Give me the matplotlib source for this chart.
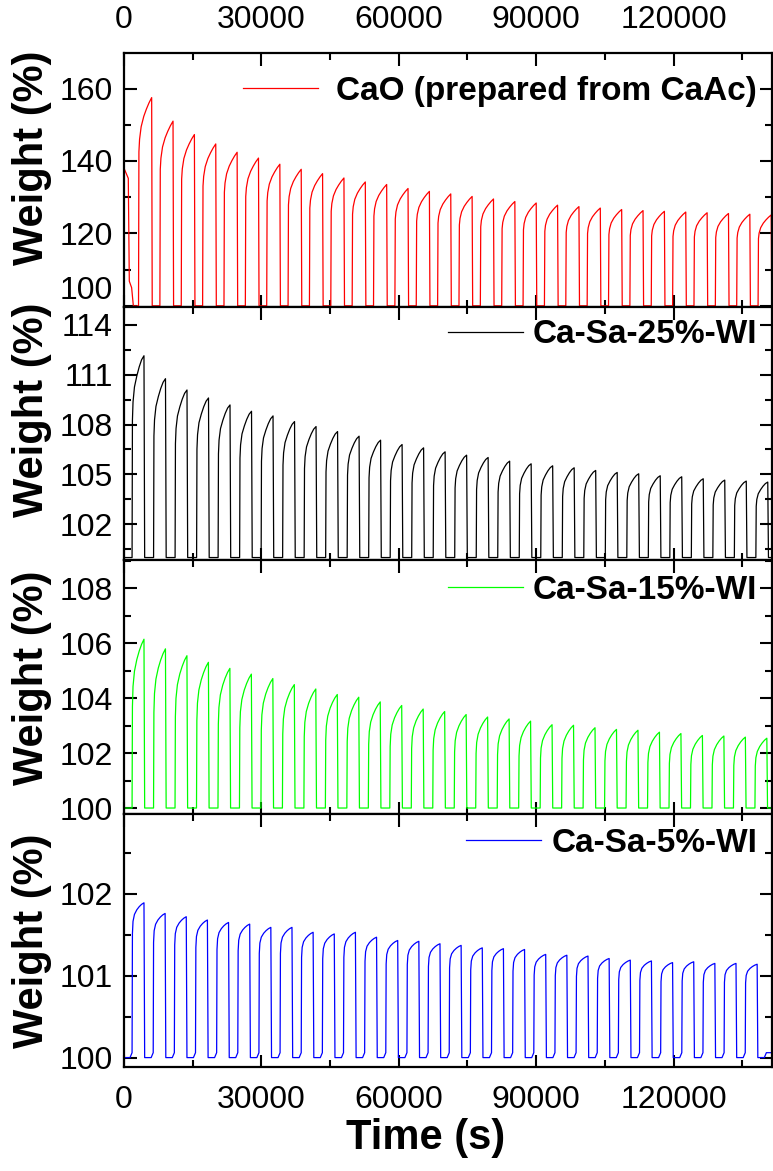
import matplotlib.pyplot as plt
from matplotlib.ticker import MultipleLocator

plt.rcParams["font.family"] = ["Liberation Sans", "DejaVu Sans"]

# пиковые значения массы (%) в каждом цикле карбонизации
cao_peaks = [157.5, 151.0, 147.3, 144.7, 142.4, 140.8, 139.1, 137.7, 136.5, 135.3,
             134.2, 133.5, 132.4, 131.6, 130.9, 130.2, 129.5, 128.8, 128.4, 127.8,
             127.4, 127.0, 126.6, 126.3, 126.1, 125.9, 125.7, 125.5, 125.3, 125.1]
sa25_peaks = [112.14, 110.76, 110.08, 109.60, 109.18, 108.80, 108.52, 108.18, 107.88, 107.58,
              107.30, 107.06, 106.80, 106.60, 106.36, 106.16, 106.02, 105.80, 105.64, 105.52,
              105.40, 105.24, 105.12, 105.04, 104.92, 104.86, 104.74, 104.66, 104.60, 104.54]
sa15_peaks = [106.14, 105.79, 105.54, 105.30, 105.08, 104.87, 104.71, 104.49, 104.33, 104.13,
              104.03, 103.86, 103.73, 103.60, 103.51, 103.40, 103.31, 103.24, 103.16, 103.03,
              103.01, 102.92, 102.86, 102.83, 102.76, 102.71, 102.64, 102.62, 102.58, 102.54]
sa5_peaks = [101.89, 101.76, 101.72, 101.68, 101.65, 101.63, 101.59, 101.59, 101.53, 101.51,
             101.53, 101.47, 101.43, 101.42, 101.39, 101.37, 101.34, 101.33, 101.32, 101.26,
             101.25, 101.24, 101.21, 101.19, 101.18, 101.16, 101.17, 101.15, 101.15, 101.14]

# начало записи (до первого цикла)
cao_start_t = [0, 940, 1160, 1670, 2040]
cao_start_w = [138.0, 135.2, 106.8, 105.0, 100.0]
sa_start_t = [0]
sa_start_w = [100.0]

# время первого пика и период цикла, с
cao_first_peak, cao_period = 6044, 4665
sa25_first_peak, sa25_period = 4364, 4697
sa15_first_peak, sa15_period = 4364, 4690
sa5_first_peak, sa5_period = 4364, 4617

# форма участка роста массы (доля времени карбонизации -> доля прироста)
rise_t = [0.03, 0.08, 0.2, 0.4, 0.6, 0.8, 1.0]
cao_rise = [0.74, 0.80, 0.86, 0.91, 0.945, 0.975, 1.0]
sa25_rise = [0.68, 0.77, 0.845, 0.90, 0.945, 0.98, 1.0]
sa15_rise = [0.60, 0.72, 0.81, 0.88, 0.93, 0.97, 1.0]
sa5_rise = [0.80, 0.88, 0.925, 0.955, 0.975, 0.99, 1.0]

X_MAX = 141500


def tga_curve(start_t, start_w, first_peak, period, carb, drop, rise, peaks, hook=0.0):
    t = list(start_t)
    w = list(start_w)
    n = len(peaks)
    for k in range(n + 1):
        tp = first_peak + k * period
        t0 = tp - carb
        if t0 > X_MAX:
            break
        if hook:
            t += [t0 - 450, t0]
            w += [100.0, 100.0 + hook]
        else:
            t.append(t0)
            w.append(100.0)
        if k == n:
            break
        for f, g in zip(rise_t, rise):
            t.append(t0 + f * carb)
            w.append(100 + g * (peaks[k] - 100))
        t.append(tp + drop)
        w.append(100.0)
    if t[-1] < X_MAX:
        t.append(X_MAX)
        w.append(w[-1])
    return t, w


panels = [
    ("CaO (prepared from CaAc)", "#ff0000",
     tga_curve(cao_start_t, cao_start_w, cao_first_peak, cao_period, 2870, 120, cao_rise, cao_peaks),
     (99.8, 169.8), [100, 120, 140, 160], 10, 0.587, 0.55, 0.848),
    ("Ca-Sa-25%-WI", "black",
     tga_curve(sa_start_t, sa_start_w, sa25_first_peak, sa25_period, 2600, 150, sa25_rise, sa25_peaks),
     (99.85, 115.1), [102, 105, 108, 111, 114], 1.5, 0.593, 0.3, 0.889),
    ("Ca-Sa-15%-WI", "#00ff00",
     tga_curve(sa_start_t, sa_start_w, sa15_first_peak, sa15_period, 2600, 150, sa15_rise, sa15_peaks),
     (99.8, 109.02), [100, 102, 104, 106, 108], 1, 0.535, 0.3, 0.881),
    ("Ca-Sa-5%-WI", "#0000ff",
     tga_curve(sa_start_t, sa_start_w, sa5_first_peak, sa5_period, 2600, 150, sa5_rise, sa5_peaks, hook=0.06),
     (99.885, 102.98), [100, 101, 102], 0.5, 0.498, 0.3, 0.882),
]

fig, axes = plt.subplots(4, 1, figsize=(7.73, 11.71), dpi=100, sharex=True)
fig.subplots_adjust(left=0.1604, right=0.9987, bottom=0.0888, top=0.9547, hspace=0)

for i, (ax, (name, color, (t, w), ylim, yticks, minor, ylab_y, tpad, leg_y)) in enumerate(zip(axes, panels)):
    ax.plot(t, w, color=color, lw=0.9, label=name)
    ax.set_xlim(0, X_MAX)
    ax.set_ylim(*ylim)
    ax.xaxis.set_major_locator(MultipleLocator(30000))
    ax.xaxis.set_minor_locator(MultipleLocator(15000))
    ax.set_yticks(yticks)
    ax.yaxis.set_minor_locator(MultipleLocator(minor))
    ax.tick_params(which="both", direction="in", top=True, right=True, width=1.5,
                   labelsize=23, pad=8)
    ax.tick_params(which="major", length=9)
    ax.tick_params(which="minor", length=5)
    ax.tick_params(axis="x", labelbottom=(i == 3), labeltop=(i == 0), pad=13)
    for sp in ax.spines.values():
        sp.set_linewidth(1.6)
    ax.set_ylabel("Weight (%)", fontsize=30, fontweight="bold")
    ax.yaxis.set_label_coords(-0.111, ylab_y)
    ax.legend(loc="center right", bbox_to_anchor=(0.977, leg_y), frameon=False,
              prop={"weight": "bold", "size": 24}, handlelength=2.25,
              handletextpad=tpad, borderpad=0, borderaxespad=0)

# подпись 100 верхней панели приподнята, чтобы не наезжать на 114
axes[0].yaxis.get_major_ticks()[0].label1.set_verticalalignment("bottom")

axes[-1].set_xlabel("Time (s)", fontsize=30, fontweight="bold")
axes[-1].xaxis.set_label_coords(0.465, -0.2)

plt.savefig("out.png", dpi=100)
